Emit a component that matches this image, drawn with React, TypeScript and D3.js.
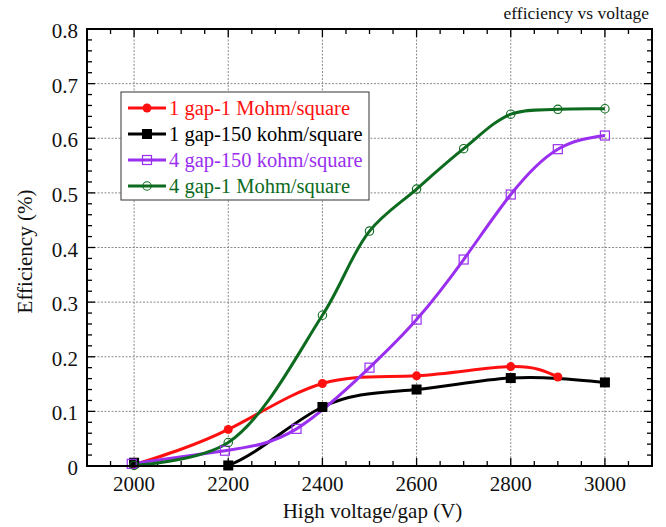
import React from "react";
import * as d3 from "d3";

const W = 666;
const H = 527;
const margin = { left: 87, right: 14, top: 29, bottom: 61 };

const xTicks = [2000, 2200, 2400, 2600, 2800, 3000];
const yTicks = [0, 0.1, 0.2, 0.3, 0.4, 0.5, 0.6, 0.7, 0.8];

// 1 gap, 1 Mohm/square
const redX = [2000, 2200, 2400, 2600, 2800, 2900];
const redY = [0.002, 0.067, 0.151, 0.165, 0.182, 0.163];
// 1 gap, 150 kohm/square
const blackX = [2000, 2200, 2400, 2600, 2800, 3000];
const blackY = [0.006, 0.001, 0.108, 0.14, 0.161, 0.153];
// 4 gap, 150 kohm/square
const purpleX = [1995, 2193, 2345, 2500, 2600, 2700, 2800, 2900, 3000];
const purpleY = [0.004, 0.028, 0.068, 0.18, 0.268, 0.378, 0.497, 0.58, 0.605];
// 4 gap, 1 Mohm/square
const greenX = [2000, 2200, 2400, 2500, 2600, 2700, 2800, 2900, 3000];
const greenY = [0.001, 0.043, 0.276, 0.43, 0.507, 0.581, 0.644, 0.653, 0.654];

const seriesNames = [
  "1 gap-1 Mohm/square",
  "1 gap-150 kohm/square",
  "4 gap-150 kohm/square",
  "4 gap-1 Mohm/square",
];

type Marker = "dot" | "square" | "openSquare" | "openCircle";

const series = [
  { name: seriesNames[0], xs: redX, ys: redY, color: "#ff1010", marker: "dot" as Marker, curve: d3.curveNatural },
  { name: seriesNames[1], xs: blackX, ys: blackY, color: "#000000", marker: "square" as Marker, curve: d3.curveNatural },
  { name: seriesNames[2], xs: purpleX, ys: purpleY, color: "#9a2ff0", marker: "openSquare" as Marker, curve: d3.curveNatural },
  { name: seriesNames[3], xs: greenX, ys: greenY, color: "#0c6b1e", marker: "openCircle" as Marker, curve: d3.curveCatmullRom.alpha(0.5) },
];

const FONT = "'Liberation Serif', 'Times New Roman', serif";

function MarkerShape({ kind, x, y, color }: { kind: Marker; x: number; y: number; color: string }) {
  if (kind === "dot") return <circle cx={x} cy={y} r={4.5} fill={color} />;
  if (kind === "square") return <rect x={x - 5} y={y - 5} width={10} height={10} fill={color} />;
  if (kind === "openSquare")
    return <rect x={x - 4.5} y={y - 4.5} width={9} height={9} fill="none" stroke={color} strokeWidth={1.2} />;
  return <circle cx={x} cy={y} r={4.2} fill="none" stroke={color} strokeWidth={1.1} />;
}

export default function App() {
  const x = d3.scaleLinear().domain([1900, 3100]).range([margin.left, W - margin.right]);
  const y = d3.scaleLinear().domain([0, 0.8]).range([H - margin.bottom, margin.top]);
  const [x0, x1] = x.range();
  const [yb, yt] = y.range();

  const xMinor = d3.range(1900, 3100.1, 50);
  const yMinor = d3.range(0, 0.8001, 0.02);

  return (
    <svg
      width={W}
      height={H}
      style={{ position: "absolute", left: 0, top: 0, background: "#fff" }}
      fontFamily={FONT}
    >
      <defs>
        <clipPath id="plotClip">
          <rect x={x0} y={yt} width={x1 - x0} height={yb - yt} />
        </clipPath>
      </defs>

      {/* grid */}
      <g stroke="#8a8a8a" strokeWidth={1} strokeDasharray="2,1.5">
        {xTicks.map((t) => (
          <line key={"gx" + t} x1={x(t)} x2={x(t)} y1={yt} y2={yb} />
        ))}
        {yTicks.slice(1, -1).map((t) => (
          <line key={"gy" + t} x1={x0} x2={x1} y1={y(t)} y2={y(t)} />
        ))}
      </g>

      {/* inward ticks on all four sides */}
      <g stroke="#000" strokeWidth={1.3}>
        {xMinor.map((t) => {
          const major = xTicks.includes(Math.round(t));
          const len = major ? 8 : 5;
          return (
            <g key={"tx" + t}>
              <line x1={x(t)} x2={x(t)} y1={yb} y2={yb - len} />
              <line x1={x(t)} x2={x(t)} y1={yt} y2={yt + len} />
            </g>
          );
        })}
        {yMinor.map((t, i) => {
          const len = i % 5 === 0 ? 8 : 5;
          return (
            <g key={"ty" + i}>
              <line x1={x0} x2={x0 + len} y1={y(t)} y2={y(t)} />
              <line x1={x1} x2={x1 - len} y1={y(t)} y2={y(t)} />
            </g>
          );
        })}
      </g>

      {/* series */}
      <g clipPath="url(#plotClip)">
        {series.map((s) => {
          const line = d3
            .line<[number, number]>()
            .x((d) => x(d[0]))
            .y((d) => y(d[1]))
            .curve(s.curve);
          return (
            <path
              key={s.name}
              d={line(s.xs.map((v, i) => [v, s.ys[i]] as [number, number])) || ""}
              fill="none"
              stroke={s.color}
              strokeWidth={3}
            />
          );
        })}
      </g>
      <g>
        {series.map((s) =>
          s.xs.map((v, i) => (
            <MarkerShape key={s.name + i} kind={s.marker} x={x(v)} y={y(s.ys[i])} color={s.color} />
          ))
        )}
      </g>

      {/* frame */}
      <rect x={x0} y={yt} width={x1 - x0} height={yb - yt} fill="none" stroke="#000" strokeWidth={2} />

      {/* tick labels */}
      <g fontSize={21} fill="#111">
        {xTicks.map((t) => (
          <text key={"lx" + t} x={x(t)} y={yb + 25} textAnchor="middle">
            {t}
          </text>
        ))}
        {yTicks.map((t) => (
          <text key={"ly" + t} x={x0 - 9} y={y(t) + 9} textAnchor="end">
            {t === 0 ? "0" : d3.format(".1f")(t)}
          </text>
        ))}
      </g>

      {/* axis titles */}
      <text x={(x0 + x1) / 2 + 3} y={518} textAnchor="middle" fontSize={21} fill="#111">
        High voltage/gap (V)
      </text>
      <text
        transform={`translate(32, ${(yt + yb) / 2 + 4}) rotate(-90)`}
        textAnchor="middle"
        fontSize={21}
        fill="#111"
      >
        Efficiency (%)
      </text>
      <text x={x1 - 3} y={19} textAnchor="end" fontSize={17.5} fill="#111">
        efficiency vs voltage
      </text>

      {/* legend */}
      <g>
        <rect x={121} y={92} width={248} height={108} fill="#fff" stroke="#333" strokeWidth={1} />
        {series.map((s, i) => {
          const ly = 108 + i * 26;
          return (
            <g key={"lg" + i}>
              <line x1={128} x2={166} y1={ly} y2={ly} stroke={s.color} strokeWidth={3} />
              <MarkerShape kind={s.marker} x={147} y={ly} color={s.color} />
              <text x={169} y={ly + 7} fontSize={20.5} fill={s.color}>
                {s.name}
              </text>
            </g>
          );
        })}
      </g>
    </svg>
  );
}
